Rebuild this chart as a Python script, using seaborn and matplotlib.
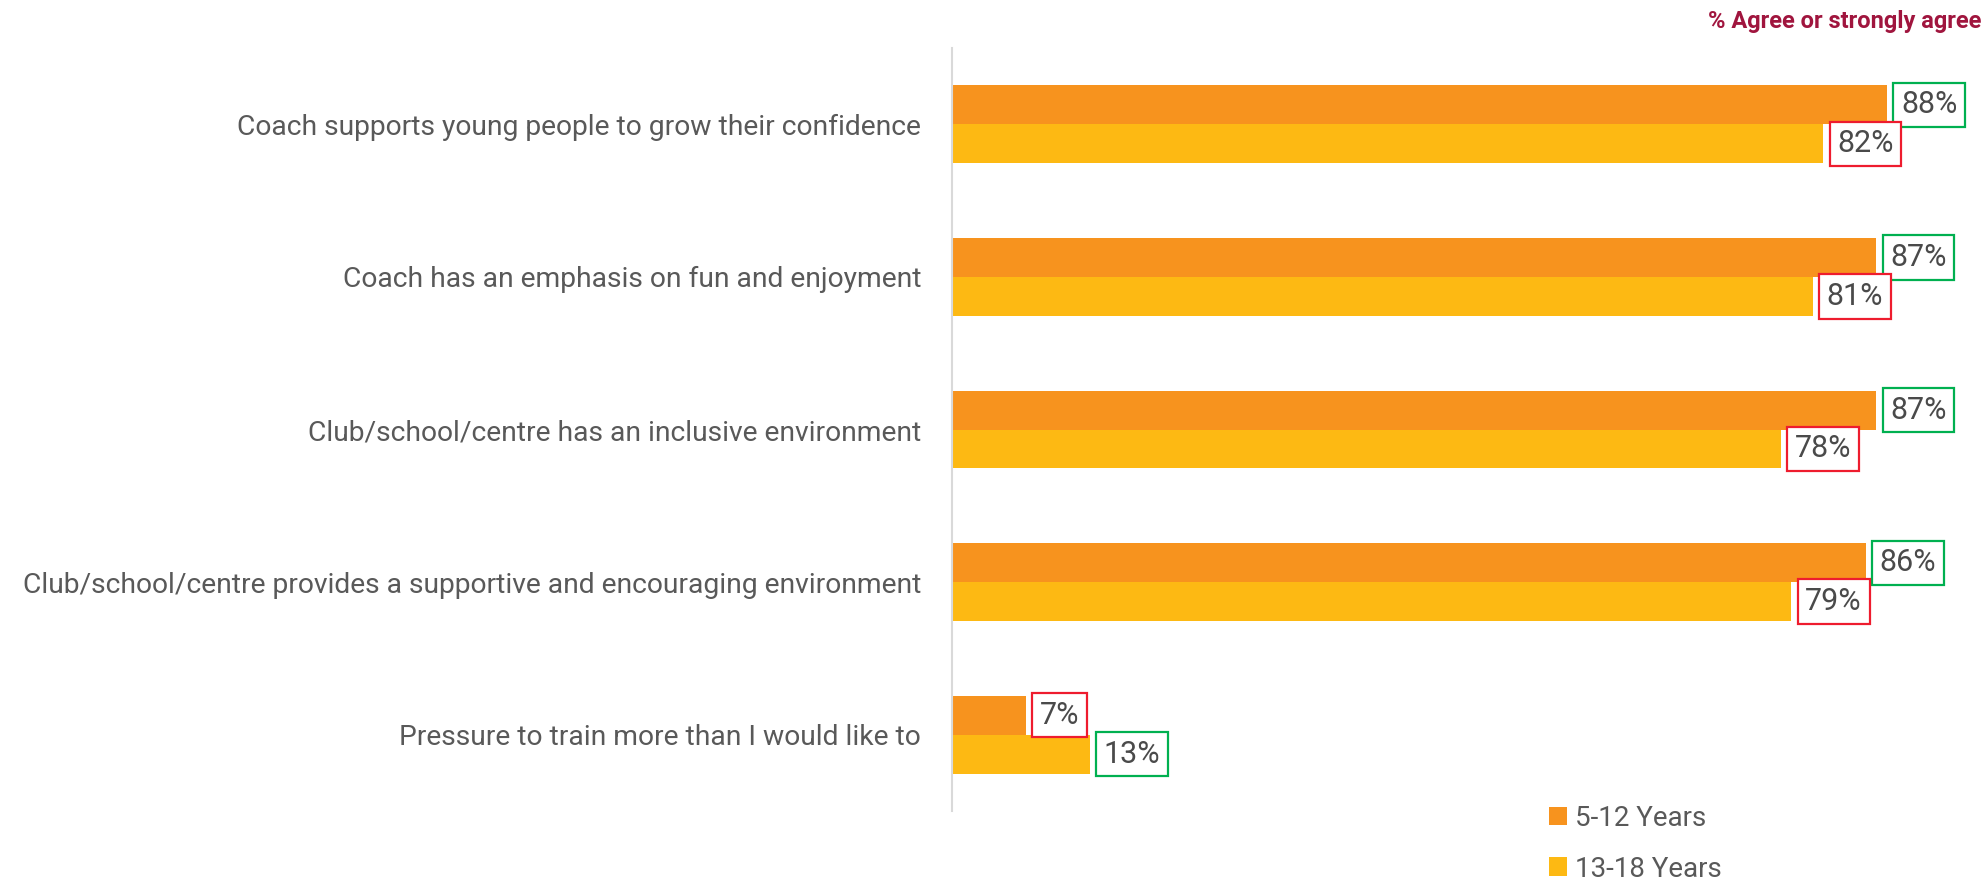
import numpy as np
import pandas as pd
import matplotlib.pyplot as plt
import seaborn as sns

categories = [
    "Coach supports young people to grow their confidence",
    "Coach has an emphasis on fun and enjoyment",
    "Club/school/centre has an inclusive environment",
    "Club/school/centre provides a supportive and encouraging environment",
    "Pressure to train more than I would like to",
]
age_groups = ["5-12 Years", "13-18 Years"]
values_5_12 = [88, 87, 87, 86, 7]
values_13_18 = [82, 81, 78, 79, 13]

colors = ["#F7931E", "#FDB913"]
text_grey = "#595959"

df = pd.DataFrame({
    "statement": categories * 2,
    "group": [age_groups[0]] * len(categories) + [age_groups[1]] * len(categories),
    "value": values_5_12 + values_13_18,
})

sns.set_style("white")
plt.rcParams["font.family"] = ["Roboto", "DejaVu Sans"]

fig = plt.figure(figsize=(19.87, 8.82), dpi=100)
ax = fig.add_axes([0.479, 0.0805, 0.521, 0.865])

sns.barplot(data=df, y="statement", x="value", hue="group", hue_order=age_groups,
            palette=colors, orient="h", width=0.51, order=categories, ax=ax,
            saturation=1, errorbar=None, linewidth=0)

ax.set_xlim(0, 97.4)
ax.set_ylim(4.5, -0.5)
ax.set_xlabel("")
ax.set_ylabel("")
ax.set_xticks([])
for s in ["top", "right", "bottom"]:
    ax.spines[s].set_visible(False)
ax.spines["left"].set_color("#D9D9D9")
ax.spines["left"].set_linewidth(1.5)
ax.tick_params(axis="y", length=0, pad=22, labelsize=20.3, labelcolor=text_grey)

# green box for the higher group, red for the lower one
series = [values_5_12, values_13_18]
for i, cont in enumerate(ax.containers):
    own = series[i]
    other = series[1 - i]
    for bar, v, o in zip(cont, own, other):
        edge = "#00B050" if v >= o else "#EE1C2E"
        ax.annotate(f"{v}%", xy=(bar.get_width(), bar.get_y() + bar.get_height() / 2),
                    xytext=(10, 0), textcoords="offset points", ha="left", va="center",
                    fontsize=22, color="#4A4A4A",
                    bbox=dict(boxstyle="square,pad=0.25", fc="white", ec=edge, lw=1.6))

handles, labels = ax.get_legend_handles_labels()
ax.get_legend().remove()
fig.legend(handles, labels, loc="upper left", bbox_to_anchor=(0.774, 0.1),
           frameon=False, fontsize=20, labelcolor=text_grey, handlelength=0.65,
           handleheight=0.65, handletextpad=0.3, labelspacing=0.85, borderaxespad=0)

fig.text(0.997, 0.976, "% Agree or strongly agree", ha="right", va="center",
         fontsize=17, fontweight="bold", color="#A0153E")

fig.savefig("out.png", dpi=100)
